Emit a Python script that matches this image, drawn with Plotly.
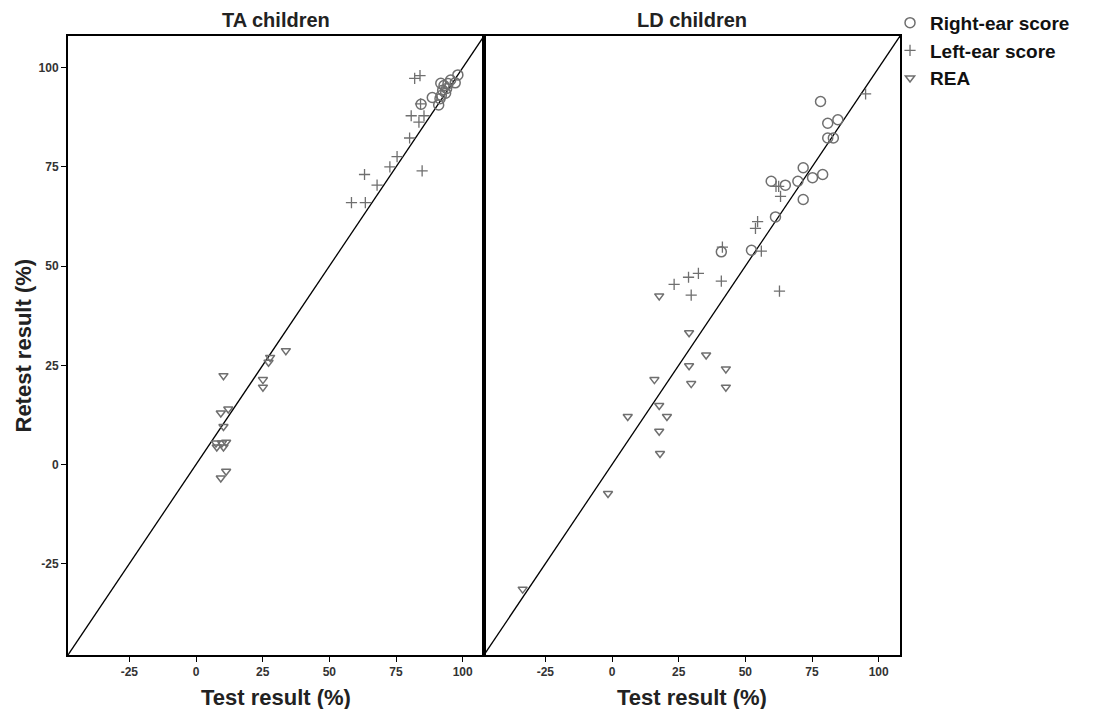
import plotly.graph_objects as go

# ---------------- data ----------------
ta_right_x = [98.2, 97.2, 95.5, 91.8, 93.0, 94.5, 92.5, 93.6, 91.5, 91.0, 88.6, 84.4, 94.0, 92.0]
ta_right_y = [98.2, 96.2, 96.9, 96.1, 95.5, 96.0, 94.3, 93.6, 92.2, 90.6, 92.5, 90.8, 94.8, 93.0]

ta_left_x = [82.0, 84.0, 84.2, 80.7, 85.5, 83.6, 80.1, 75.4, 72.7, 84.8, 63.2, 67.9, 58.3, 63.5]
ta_left_y = [97.3, 98.0, 90.9, 87.9, 87.9, 86.3, 82.3, 77.6, 75.0, 74.0, 73.1, 70.4, 66.0, 66.0]

ta_rea_x = [33.7, 27.8, 27.2, 25.1, 25.1, 10.3, 12.1, 9.3, 10.3, 7.5, 9.7, 11.3, 7.8, 10.3, 11.3, 9.3]
ta_rea_y = [28.7, 27.0, 25.8, 21.4, 19.5, 22.4, 14.0, 13.0, 9.6, 5.4, 5.4, 5.6, 4.4, 4.4, -1.7, -3.4]

ld_right_x = [78.2, 80.9, 84.7, 80.9, 83.0, 71.7, 59.7, 65.0, 69.7, 75.2, 79.0, 71.7, 61.3, 52.3, 41.0]
ld_right_y = [91.5, 86.0, 86.9, 82.3, 82.3, 74.8, 71.4, 70.4, 71.4, 72.3, 73.1, 66.8, 62.4, 54.0, 53.6]

ld_left_x = [95.1, 61.5, 62.5, 63.2, 54.6, 53.8, 56.0, 41.4, 41.0, 23.3, 28.7, 32.4, 29.7, 62.8]
ld_left_y = [93.4, 70.1, 70.1, 67.6, 61.2, 59.5, 53.8, 54.8, 46.2, 45.4, 47.2, 48.2, 42.7, 43.7]

ld_rea_x = [17.7, 28.9, 35.3, 28.9, 42.7, 15.9, 29.7, 42.7, 17.7, 5.9, 20.6, 17.7, 18.0, -1.5, -33.5]
ld_rea_y = [42.5, 33.2, 27.6, 24.9, 24.1, 21.4, 20.4, 19.5, 14.9, 12.1, 12.1, 8.4, 2.8, -7.3, -31.4]

axis_range = [-48, 108]
tick_vals = [-25, 0, 25, 50, 75, 100]
tick_text = ["-25", "0", "25", "50", "75", "100"]
panel_titles = ["TA children", "LD children"]
series_names = ["Right-ear score", "Left-ear score", "REA"]
x_title = "Test result (%)"
y_title = "Retest result (%)"

# ---------------- figure ----------------
grey = "#6f6f6f"
font_main = "Liberation Sans, Arial"
fig = go.Figure()

panels = [
    ("x", "y", ta_right_x, ta_right_y, ta_left_x, ta_left_y, ta_rea_x, ta_rea_y, True),
    ("x2", "y2", ld_right_x, ld_right_y, ld_left_x, ld_left_y, ld_rea_x, ld_rea_y, False),
]

for xa, ya, rx, ry, lx, ly, ex, ey, show in panels:
    fig.add_trace(go.Scatter(x=axis_range, y=axis_range, mode="lines",
                             line=dict(color="black", width=1.3),
                             showlegend=False, hoverinfo="skip", xaxis=xa, yaxis=ya))
    fig.add_trace(go.Scatter(x=rx, y=ry, mode="markers", name=series_names[0],
                             marker=dict(symbol="circle-open", size=10, color=grey,
                                         line=dict(width=1.5, color=grey)),
                             showlegend=show, legendgroup="r", xaxis=xa, yaxis=ya))
    fig.add_trace(go.Scatter(x=lx, y=ly, mode="markers", name=series_names[1],
                             marker=dict(symbol="cross-thin-open", size=8, color=grey,
                                         line=dict(width=1.3, color=grey)),
                             showlegend=show, legendgroup="l", xaxis=xa, yaxis=ya))
    fig.add_trace(go.Scatter(x=ex, y=ey, mode="markers", name=series_names[2],
                             marker=dict(symbol="triangle-down-open", size=8, color=grey,
                                         line=dict(width=1.5, color=grey)),
                             showlegend=show, legendgroup="e", xaxis=xa, yaxis=ya))

tickfont = dict(family="Liberation Sans Narrow, Arial Narrow, Liberation Sans, Arial",
                size=12, color="#333333", weight="bold")
common_x = dict(range=axis_range, tickvals=tick_vals, ticktext=tick_text,
                showline=True, linecolor="black", linewidth=2, mirror=True,
                ticks="outside", ticklen=5, tickcolor="black", showgrid=False,
                zeroline=False, tickfont=tickfont, automargin=False)

fig.update_layout(
    width=1096, height=709,
    margin=dict(l=60, r=204, t=28, b=62, autoexpand=False),
    plot_bgcolor="white", paper_bgcolor="white",
    xaxis=dict(domain=[0, 0.5], **common_x),
    xaxis2=dict(domain=[0.5, 1], **common_x),
    yaxis=dict(range=axis_range, tickvals=tick_vals, ticktext=tick_text,
               showline=True, linecolor="black", linewidth=2, mirror=True,
               ticks="outside", ticklen=5, tickcolor="black", showgrid=False,
               zeroline=False, tickfont=tickfont, automargin=False),
    yaxis2=dict(range=axis_range, anchor="x2", matches="y", showticklabels=False,
                showline=True, linecolor="black", linewidth=2, mirror=True, automargin=False,
                ticks="", showgrid=False, zeroline=False),
    legend=dict(x=0.988, y=1.052, xanchor="left", yanchor="top",
                font=dict(family=font_main, size=19, color="#111111", weight="bold"),
                itemwidth=30, tracegroupgap=0, bgcolor="rgba(0,0,0,0)"),
    showlegend=True,
)

for i, t in enumerate(panel_titles):
    fig.add_annotation(text="<b>%s</b>" % t, x=0.25 + 0.5 * i, y=1.0, xref="paper", yref="paper",
                       xanchor="center", yanchor="middle", yshift=16, showarrow=False,
                       font=dict(family=font_main, size=20, color="#222222"))
    fig.add_annotation(text="<b>%s</b>" % x_title, x=0.25 + 0.5 * i, y=0.0, xref="paper", yref="paper",
                       xanchor="center", yanchor="middle", yshift=-42, showarrow=False,
                       font=dict(family=font_main, size=22, color="#222222"))

fig.add_annotation(text="<b>%s</b>" % y_title, x=0.0, y=0.5, xref="paper", yref="paper",
                   xanchor="center", yanchor="middle", xshift=-45, textangle=-90, showarrow=False,
                   font=dict(family=font_main, size=22, color="#222222"))

fig.write_html("out.html")
